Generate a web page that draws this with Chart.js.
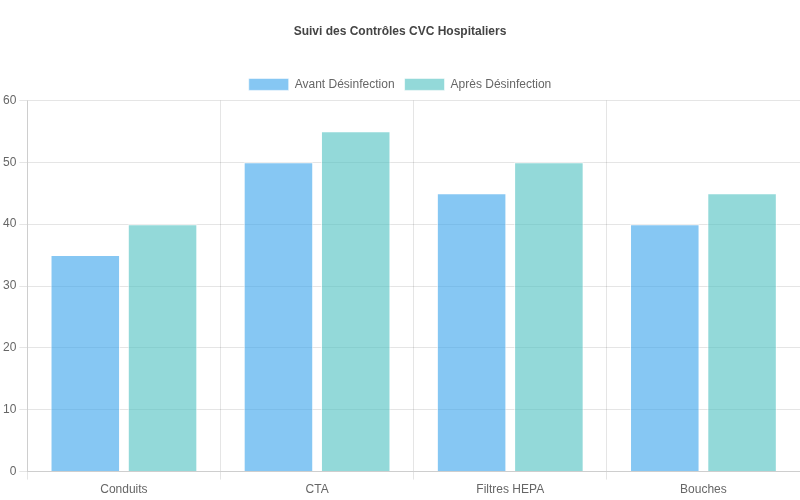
<!DOCTYPE html>
<html>
<head>
<meta charset="utf-8">
<script src="https://cdn.jsdelivr.net/npm/chart.js@4"></script>
<style>
  html, body { margin: 0; padding: 0; background: #fff; }
  #wrap { width: 800px; height: 500px; }
</style>
</head>
<body>
<div id="wrap"><canvas id="cvcChart"></canvas></div>
<script>
const categories = ['Conduits', 'CTA', 'Filtres HEPA', 'Bouches'];
const avantValues = [35, 50, 45, 40];
const apresValues = [40, 55, 50, 45];

Chart.defaults.font.family = '"Liberation Sans", Arial, sans-serif';
Chart.defaults.color = '#666';

const ctx = document.getElementById('cvcChart').getContext('2d');
new Chart(ctx, {
    type: 'bar',
    data: {
        labels: categories,
        datasets: [
            {
                label: 'Avant Désinfection',
                data: avantValues,
                backgroundColor: 'rgba(54, 162, 235, 0.6)',
                borderColor: 'rgba(255, 255, 255, 0.6)',
                borderWidth: 1
            },
            {
                label: 'Après Désinfection',
                data: apresValues,
                backgroundColor: 'rgba(75, 192, 192, 0.6)',
                borderColor: 'rgba(255, 255, 255, 0.6)',
                borderWidth: 1
            }
        ]
    },
    options: {
        responsive: true,
        maintainAspectRatio: false,
        animation: false,
        plugins: {
            title: {
                display: true,
                text: 'Suivi des Contrôles CVC Hospitaliers',
                font: { size: 12, weight: 'bold' },
                color: '#444',
                padding: { top: 24, bottom: 30 }
            },
            legend: {
                labels: { font: { size: 12 } }
            }
        },
        scales: {
            y: {
                beginAtZero: true,
                max: 60,
                ticks: { stepSize: 10 }
            }
        }
    }
});
</script>
</body>
</html>
